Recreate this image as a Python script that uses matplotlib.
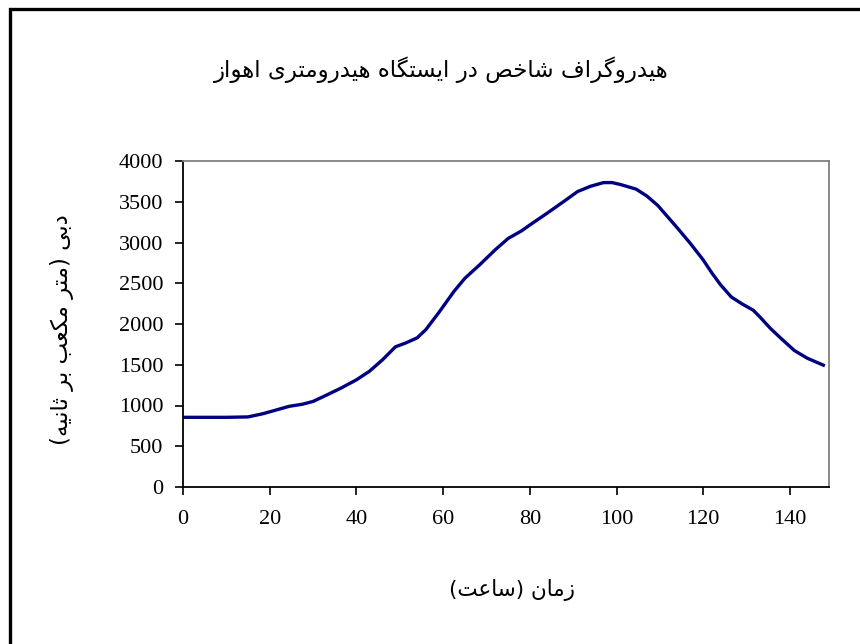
import matplotlib
matplotlib.use("Agg")
import matplotlib.pyplot as plt
from matplotlib.patches import Rectangle

# hydrograph readings (hour, discharge m3/s)
hours = [0, 5, 10, 15, 18.5, 21.5, 24.5, 27.5, 30, 33, 36.5, 40, 43, 46, 49,
         51.5, 54, 56, 59, 62.5, 65, 68.5, 72, 75, 78, 80, 84, 88, 91, 94, 97,
         99, 101, 104.5, 107, 109.5, 114, 117, 120, 122, 124, 126.5, 129,
         131.5, 133, 135.5, 138, 141, 144, 147.7]
flow = [855, 855, 855, 860, 900, 945, 990, 1015, 1050, 1125, 1215, 1315, 1420,
        1560, 1720, 1770, 1830, 1930, 2140, 2400, 2560, 2730, 2910, 3050, 3140,
        3215, 3360, 3510, 3625, 3690, 3735, 3735, 3710, 3655, 3570, 3455, 3180,
        2990, 2785, 2625, 2480, 2330, 2245, 2170, 2090, 1945, 1820, 1675, 1580,
        1495]

xticks = [0, 20, 40, 60, 80, 100, 120, 140]
yticks = [0, 500, 1000, 1500, 2000, 2500, 3000, 3500, 4000]

title = "هیدروگراف شاخص در ایستگاه هیدرومتری اهواز"
xlabel = "زمان (ساعت)"
ylabel = "دبی (متر مکعب بر ثانیه)"

# matplotlib has no arabic shaping, so pick the joined glyph forms by hand
# (isolated, final, initial, medial)
FORMS = {
    'ا': ('\uFE8D', '\uFE8E', None, None),
    'ب': ('\uFE8F', '\uFE90', '\uFE91', '\uFE92'),
    'ت': ('\uFE95', '\uFE96', '\uFE97', '\uFE98'),
    'ث': ('\uFE99', '\uFE9A', '\uFE9B', '\uFE9C'),
    'خ': ('\uFEA5', '\uFEA6', '\uFEA7', '\uFEA8'),
    'د': ('\uFEA9', '\uFEAA', None, None),
    'ر': ('\uFEAD', '\uFEAE', None, None),
    'ز': ('\uFEAF', '\uFEB0', None, None),
    'س': ('\uFEB1', '\uFEB2', '\uFEB3', '\uFEB4'),
    'ش': ('\uFEB5', '\uFEB6', '\uFEB7', '\uFEB8'),
    'ص': ('\uFEB9', '\uFEBA', '\uFEBB', '\uFEBC'),
    'ع': ('\uFEC9', '\uFECA', '\uFECB', '\uFECC'),
    'ف': ('\uFED1', '\uFED2', '\uFED3', '\uFED4'),
    'م': ('\uFEE1', '\uFEE2', '\uFEE3', '\uFEE4'),
    'ن': ('\uFEE5', '\uFEE6', '\uFEE7', '\uFEE8'),
    'ه': ('\uFEE9', '\uFEEA', '\uFEEB', '\uFEEC'),
    'و': ('\uFEED', '\uFEEE', None, None),
    'ی': ('\uFBFC', '\uFBFD', '\uFBFE', '\uFBFF'),
    'ک': ('\uFB8E', '\uFB8F', '\uFB90', '\uFB91'),
    'گ': ('\uFB92', '\uFB93', '\uFB94', '\uFB95'),
}


def shape(text):
    out = []
    for i, c in enumerate(text):
        if c not in FORMS:
            out.append(c)
            continue
        iso, fin, ini, med = FORMS[c]
        prev = text[i - 1] if i > 0 else ''
        nxt = text[i + 1] if i + 1 < len(text) else ''
        join_prev = prev in FORMS and FORMS[prev][2] is not None
        join_next = nxt in FORMS and ini is not None
        if join_prev and join_next:
            out.append(med)
        elif join_prev:
            out.append(fin)
        elif join_next:
            out.append(ini)
        else:
            out.append(iso)
    vis = ''.join(reversed(out))
    return vis.translate(str.maketrans('()', ')('))


serif = ['Liberation Serif', 'DejaVu Serif']
fa = ['DejaVu Sans']

fig = plt.figure(figsize=(8.6, 6.44), dpi=100)
ax = fig.add_axes([183 / 860, 1 - 487 / 644, 646 / 860, 326 / 644])

ax.plot(hours, flow, color='#000080', lw=2.4, solid_joinstyle='round')

ax.set_xlim(0, 149)
ax.set_ylim(0, 4000)
ax.set_xticks(xticks)
ax.set_yticks(yticks)
ax.tick_params(direction='out', length=5.8, width=1.2, colors='black',
               labelsize=16)
ax.tick_params(axis='y', pad=8.5)
ax.tick_params(axis='x', pad=10.5)
for lab in ax.get_xticklabels() + ax.get_yticklabels():
    lab.set_family(serif)

for s in ['left', 'bottom']:
    ax.spines[s].set_color('black')
    ax.spines[s].set_linewidth(1.3)
for s in ['top', 'right']:
    ax.spines[s].set_color('#808080')
    ax.spines[s].set_linewidth(1.3)

fig.text(441 / 860, 1 - 70 / 644, shape(title), ha='center', va='center',
         fontsize=16.5, family=fa)
fig.text(512 / 860, 1 - 590 / 644, shape(xlabel), ha='center', va='center',
         fontsize=15.5, family=fa)
fig.text(62 / 860, 1 - 330 / 644, shape(ylabel), ha='center', va='center',
         rotation=90, fontsize=16.5, family=fa)

# chart area border (runs off the right and bottom of the image)
fig.patches.append(Rectangle((10 / 860, -0.1), 1.1, 1.1 - 9 / 644,
                             transform=fig.transFigure, fill=False,
                             edgecolor='black', lw=2.4))

fig.savefig('out.png', dpi=100)
